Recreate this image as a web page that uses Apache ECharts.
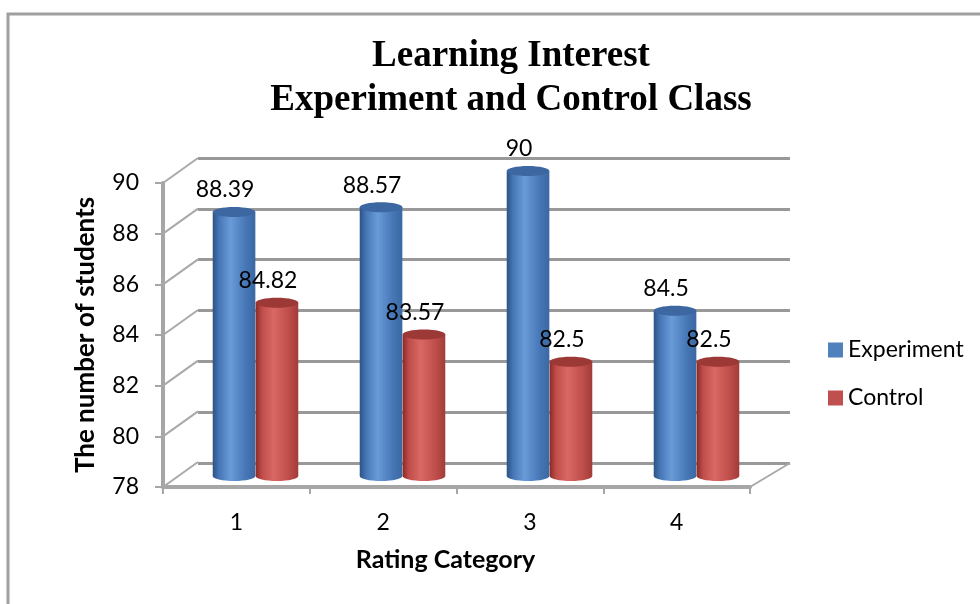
<!DOCTYPE html>
<html>
<head>
<meta charset="utf-8">
<style>
  html, body { margin: 0; padding: 0; background: #fff; }
  #chart { width: 980px; height: 604px; }
</style>
<script src="https://cdn.jsdelivr.net/npm/echarts@6.0.0/dist/echarts.min.js"></script>
</head>
<body>
<div id="chart"></div>
<script>
const categories = ['1', '2', '3', '4']
const experiment = [88.39, 88.57, 90, 84.5]
const control = [84.82, 83.57, 82.5, 82.5]
const valueTicks = [78, 80, 82, 84, 86, 88, 90]

const yMin = 78
const yMax = 90
const step = 2

const labelFont = 'Lato, "Open Sans", sans-serif'

// depth of the fake 3D box (front plane -> back wall)
const depthX = 35
const depthY = -25

const blueLook = {
  edge: '#2c5385', mid: '#4676b5', light: '#6a9bd9', right: '#3b68a3', cap: '#3c67a0'
}
const redLook = {
  edge: '#8a2a28', mid: '#bf4d4a', light: '#d96764', right: '#a13c39', cap: '#9c3835'
}

function cylinder (side, look) {
  return function (params, api) {
    const idx = api.value(0)
    const val = api.value(1)
    const band = api.size([1, 0])[0]
    const w = band * 0.29
    const cx = api.coord([idx, val])[0] + side * band * 0.146
    const topY = api.coord([idx, val])[1]
    const baseY = api.coord([idx, yMin])[1]
    const ry = 5
    const fill = new echarts.graphic.LinearGradient(0, 0, 1, 0, [
      { offset: 0, color: look.edge },
      { offset: 0.15, color: look.mid },
      { offset: 0.42, color: look.light },
      { offset: 0.78, color: look.mid },
      { offset: 1, color: look.right }
    ])
    return {
      type: 'group',
      children: [
        {
          type: 'ellipse',
          shape: { cx: cx, cy: baseY, rx: w / 2, ry: ry },
          style: { fill: fill }
        },
        {
          type: 'rect',
          shape: { x: cx - w / 2, y: topY, width: w, height: baseY - topY },
          style: { fill: fill }
        },
        {
          type: 'ellipse',
          shape: { cx: cx, cy: topY, rx: w / 2, ry: ry },
          style: { fill: look.cap }
        },
        {
          type: 'text',
          z2: 50,
          style: {
            x: cx - 9,
            y: topY - 22,
            text: String(val),
            fill: '#000',
            font: '23px ' + labelFont,
            align: 'center',
            verticalAlign: 'middle'
          }
        }
      ]
    }
  }
}

function connectors (params, api) {
  const cs = params.coordSys
  const v = api.value(1)
  const y = api.coord([0, v])[1]
  const lineStyle = { stroke: '#a9a9a9', lineWidth: 2 }
  const children = [{
    type: 'line',
    shape: { x1: cs.x, y1: y, x2: cs.x + depthX, y2: y + depthY },
    style: lineStyle
  }]
  if (v === yMin) {
    children.push({
      type: 'line',
      shape: { x1: cs.x + cs.width, y1: y, x2: cs.x + cs.width + 40, y2: y - 24 },
      style: lineStyle
    })
  }
  return { type: 'group', children: children }
}

const chart = echarts.init(document.getElementById('chart'))

chart.setOption({
  backgroundColor: '#fff',
  animation: false,
  title: {
    text: 'Learning Interest\nExperiment and Control Class',
    left: 511,
    top: 34,
    textAlign: 'center',
    padding: 0,
    textStyle: {
      fontFamily: '"Liberation Serif", "Times New Roman", serif',
      fontWeight: 'bold',
      fontSize: 37,
      lineHeight: 44,
      color: '#000'
    }
  },
  legend: {
    orient: 'vertical',
    left: 823,
    top: 333,
    icon: 'rect',
    itemWidth: 15,
    itemHeight: 15,
    itemGap: 24,
    textStyle: {
      fontFamily: labelFont,
      fontSize: 23,
      lineHeight: 24,
      color: '#000'
    },
    data: ['Experiment', 'Control']
  },
  graphic: [{
    type: 'rect',
    shape: { x: 8, y: 14, width: 1000, height: 700 },
    style: { fill: 'none', stroke: '#9f9f9f', lineWidth: 3 },
    silent: true
  }],
  grid: [
    // back wall
    { left: 198, top: 158, width: 592, height: 305 },
    // front plane with axes
    { left: 163, top: 183, width: 587, height: 304 },
    // middle depth where the cylinders stand
    { left: 182, top: 171, width: 588, height: 305 }
  ],
  xAxis: [
    { gridIndex: 0, type: 'category', data: categories, show: false },
    {
      gridIndex: 1,
      type: 'category',
      data: categories,
      axisLine: { lineStyle: { color: '#a6a6a6', width: 4 } },
      axisTick: { show: true, length: 7, lineStyle: { color: '#a6a6a6', width: 2 } },
      axisLabel: { margin: 24, fontFamily: labelFont, fontSize: 23, color: '#000' },
      name: 'Rating Category',
      nameLocation: 'middle',
      nameGap: 60,
      nameTextStyle: {
        fontFamily: labelFont,
        fontWeight: 'bold',
        fontSize: 25,
        color: '#000',
        padding: [0, 22, 0, 0]
      }
    },
    { gridIndex: 2, type: 'category', data: categories, show: false }
  ],
  yAxis: [
    {
      gridIndex: 0,
      type: 'value',
      min: yMin,
      max: yMax,
      interval: step,
      axisLine: { show: false },
      axisTick: { show: false },
      axisLabel: { show: false },
      splitLine: { show: true, lineStyle: { color: '#999999', width: 3 } }
    },
    {
      gridIndex: 1,
      type: 'value',
      min: yMin,
      max: yMax,
      interval: step,
      axisLine: { show: true, lineStyle: { color: '#a6a6a6', width: 4 } },
      axisTick: { show: true, length: 8, lineStyle: { color: '#a6a6a6', width: 2 } },
      axisLabel: {
        margin: 24,
        fontFamily: labelFont,
        fontSize: 23,
        color: '#000',
        formatter: v => (valueTicks.includes(v) ? String(v) : '')
      },
      splitLine: { show: false },
      name: 'The number of students',
      nameLocation: 'middle',
      nameRotate: 90,
      nameGap: 64,
      nameTextStyle: {
        fontFamily: labelFont,
        fontWeight: 'bold',
        fontSize: 26,
        color: '#000'
      }
    },
    { gridIndex: 2, type: 'value', min: yMin, max: yMax, show: false }
  ],
  series: [
    {
      name: 'walls',
      type: 'custom',
      xAxisIndex: 1,
      yAxisIndex: 1,
      silent: true,
      renderItem: connectors,
      data: valueTicks.map(v => [0, v])
    },
    {
      name: 'Experiment',
      type: 'custom',
      xAxisIndex: 2,
      yAxisIndex: 2,
      itemStyle: { color: '#4f81bd' },
      renderItem: cylinder(-1, blueLook),
      data: experiment.map((v, i) => [i, v])
    },
    {
      name: 'Control',
      type: 'custom',
      xAxisIndex: 2,
      yAxisIndex: 2,
      itemStyle: { color: '#c0504d' },
      renderItem: cylinder(1, redLook),
      data: control.map((v, i) => [i, v])
    }
  ]
})
</script>
</body>
</html>
